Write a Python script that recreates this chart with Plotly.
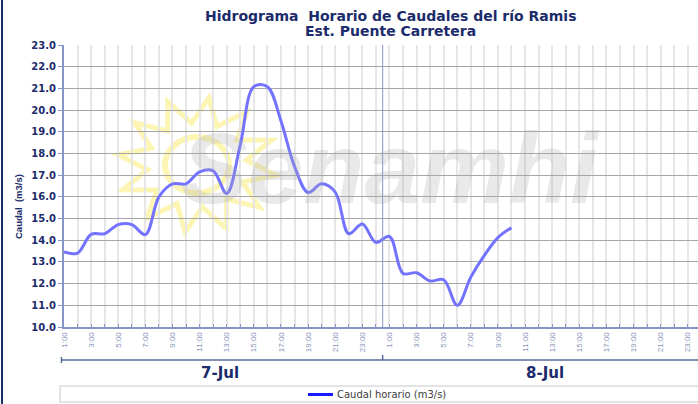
import math
import plotly.graph_objects as go

# ---------------- data ----------------
DAYS = ["7-Jul", "8-Jul"]
HOURS = ["1:00", "2:00", "3:00", "4:00", "5:00", "6:00", "7:00", "8:00",
         "9:00", "10:00", "11:00", "12:00", "13:00", "14:00", "15:00", "16:00",
         "17:00", "18:00", "19:00", "20:00", "21:00", "22:00", "23:00", "24:00"]
CAUDAL_7JUL = [13.46, 13.41, 14.27, 14.30, 14.72, 14.72, 14.26, 16.00,
               16.60, 16.60, 17.15, 17.20, 16.15, 18.40, 21.08, 21.08,
               19.50, 17.40, 16.20, 16.60, 16.22, 14.30, 14.75, 13.90]
CAUDAL_8JUL = [14.18, 12.47, 12.50, 12.12, 12.18, 11.00, 12.30, 13.30,
               14.12, 14.58]
Y_TICKS = [10.0, 11.0, 12.0, 13.0, 14.0, 15.0, 16.0, 17.0, 18.0, 19.0,
           20.0, 21.0, 22.0, 23.0]
SERIES_NAME = "Caudal horario (m3/s)"
TITLE_1 = "Hidrograma\u00a0 Horario de Caudales del río Ramis"
TITLE_2 = "Est. Puente Carretera"
Y_TITLE = "Caudal\u00a0 (m3/s)"
WATERMARK = "Senamhi"

# ---------------- derived ----------------
categories = [(d, h) for d in DAYS for h in HOURS]
x_pos = list(range(len(categories)))
values = CAUDAL_7JUL + CAUDAL_8JUL
x_vals = x_pos[:len(values)]
tick_text = [h if int(h.split(":")[0]) % 2 == 1 else "" for d, h in categories]
n_per_day = len(HOURS)
day_centers = [(i * n_per_day + (i + 1) * n_per_day - 1) / 2 for i in range(len(DAYS))]
day_boundary = n_per_day - 0.5

# ---------------- geometry helpers (decoration only) ----------------
W, H = 698, 404
PL, PR, PT, PB = 64, 698, 45, 327


def px(xp):
    return (xp - PL) / (PR - PL)


def py(yp):
    return (PB - yp) / (PB - PT)


NAVY = "#1c2b6b"
AXIS = "#8795c6"
SUN = "#fcf5b4"

fig = go.Figure()
fig.add_trace(go.Scatter(
    x=x_vals, y=values, mode="lines", name=SERIES_NAME, showlegend=False,
    line=dict(color="#7373ff", width=3, shape="spline", smoothing=1.0),
))

shapes = []
# sun watermark
cx, cy = 197, 165
pts = []
nr = 12
for k in range(2 * nr):
    ang = math.pi * k / nr + 0.15
    r = 1.0 if k % 2 == 0 else 0.62
    pts.append((cx + 80 * r * math.cos(ang), cy + 68 * r * math.sin(ang)))
path = "M " + " L ".join(f"{px(a):.4f},{py(b):.4f}" for a, b in pts) + " Z"
shapes.append(dict(type="path", path=path, xref="paper", yref="paper",
                   line=dict(color=SUN, width=5), fillcolor="rgba(0,0,0,0)",
                   layer="between"))
shapes.append(dict(type="circle", xref="paper", yref="paper",
                   x0=px(cx - 32), x1=px(cx + 32), y0=py(cy + 28), y1=py(cy - 28),
                   line=dict(color=SUN, width=6), layer="between"))
# day divider inside plot
shapes.append(dict(type="line", xref="x", yref="paper", x0=day_boundary, x1=day_boundary,
                   y0=0, y1=1, line=dict(color=AXIS, width=1)))
# second-level axis line + ticks
shapes.append(dict(type="line", xref="paper", yref="paper", x0=px(61), x1=px(705),
                   y0=py(360), y1=py(360), line=dict(color="#5a6a9a", width=1.5)))
shapes.append(dict(type="line", xref="paper", yref="paper", x0=px(61.5), x1=px(61.5),
                   y0=py(357), y1=py(363), line=dict(color="#5a6a9a", width=1.5)))
shapes.append(dict(type="line", xref="x", yref="paper", x0=day_boundary, x1=day_boundary,
                   y0=py(355), y1=py(360), line=dict(color="#5a6a9a", width=1.5)))
# legend box
shapes.append(dict(type="rect", xref="paper", yref="paper", x0=px(60), x1=px(712),
                   y0=py(402), y1=py(386), line=dict(color="#c8c8c8", width=1)))
shapes.append(dict(type="line", xref="paper", yref="paper", x0=px(308), x1=px(333),
                   y0=py(394.5), y1=py(394.5), line=dict(color="#1a1aff", width=3)))
# left outer border
shapes.append(dict(type="line", xref="paper", yref="paper", x0=px(2), x1=px(2),
                   y0=py(0), y1=py(404), line=dict(color=NAVY, width=2)))

annotations = [
    dict(text=WATERMARK, xref="paper", yref="paper", x=px(390), y=py(168),
         xanchor="center", yanchor="middle", showarrow=False,
         font=dict(family="Liberation Sans", size=100,
                   color="rgba(170,170,170,0.26)", style="italic", weight="bold")),
    dict(text=TITLE_1, xref="paper", yref="paper", x=px(390), y=py(16),
         xanchor="center", yanchor="middle", showarrow=False,
         font=dict(family="DejaVu Sans", size=14, color=NAVY, weight="bold")),
    dict(text=TITLE_2, xref="paper", yref="paper", x=px(390), y=py(31),
         xanchor="center", yanchor="middle", showarrow=False,
         font=dict(family="DejaVu Sans", size=14, color=NAVY, weight="bold")),
    dict(text=Y_TITLE, xref="paper", yref="paper", x=px(18), y=py(206), textangle=-90,
         xanchor="center", yanchor="middle", showarrow=False,
         font=dict(family="Liberation Sans", size=9.5, color=NAVY, weight="bold")),
    dict(text=SERIES_NAME, xref="paper", yref="paper", x=px(335), y=py(394.5),
         xanchor="left", yanchor="middle", showarrow=False,
         font=dict(family="DejaVu Sans", size=10, color="#404040")),
]
for d, c in zip(DAYS, day_centers):
    annotations.append(dict(text=d, xref="x", yref="paper", x=c, y=py(373),
                            xanchor="center", yanchor="middle", showarrow=False,
                            font=dict(family="DejaVu Sans", size=15, color=NAVY,
                                      weight="bold")))

fig.update_layout(
    width=W, height=H,
    margin=dict(l=PL, r=W - PR, t=PT, b=H - PB, pad=0),
    paper_bgcolor="white", plot_bgcolor="white",
    shapes=shapes, annotations=annotations,
    showlegend=False,
    xaxis=dict(
        range=[0, (PR - PL) / 13.56], tickmode="array", tickvals=x_pos, ticktext=tick_text,
        tickangle=-90, tickfont=dict(family="Liberation Sans", size=8, color="#8a96ba"),
        showgrid=True, gridcolor="#e6e6e6", gridwidth=2, zeroline=False,
        showline=True, linecolor=AXIS, linewidth=2,
        ticks="inside", ticklen=3, tickcolor=AXIS, automargin=False,
    ),
    yaxis=dict(
        range=[10, 23], tickmode="array", tickvals=Y_TICKS, tickformat=".1f",
        tickfont=dict(family="DejaVu Sans", size=10, color=NAVY, weight="bold"),
        showgrid=True, gridcolor="#a6a6a6", gridwidth=1, zeroline=False,
        showline=True, linecolor=AXIS, linewidth=2,
        ticks="outside", ticklen=4, tickcolor=AXIS, automargin=False,
    ),
)

fig.write_html(
    "out.html",
    config={"displayModeBar": False},
    post_script="document.body.style.margin='0';document.body.style.padding='0';"
                "document.body.style.overflow='hidden';",
)
